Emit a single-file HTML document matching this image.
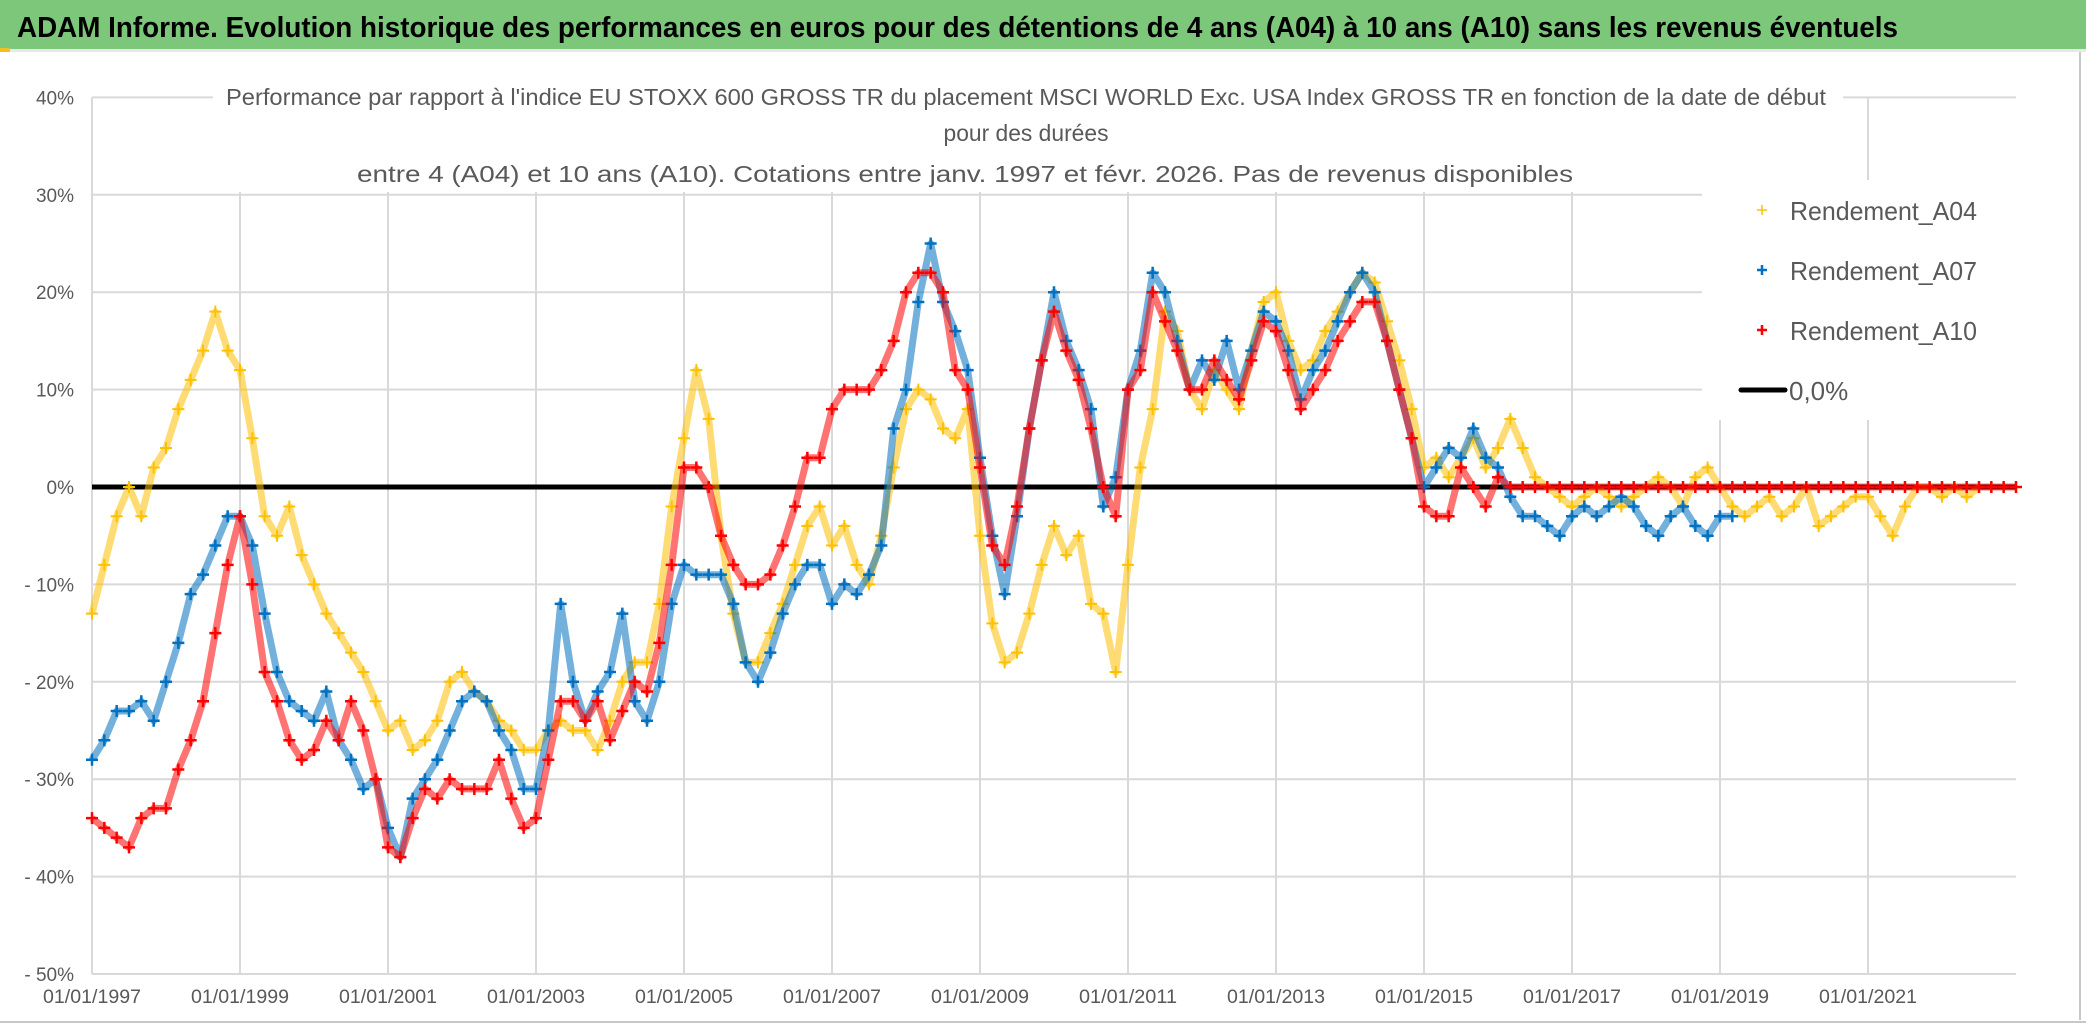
<!DOCTYPE html>
<html><head><meta charset="utf-8">
<style>
html,body{margin:0;padding:0;background:#fff;}
svg{display:block;font-family:"Liberation Sans",sans-serif;}
</style></head>
<body>
<svg id="chart" width="2086" height="1031" viewBox="0 0 2086 1031" xmlns="http://www.w3.org/2000/svg">
  <rect x="0" y="0" width="2086" height="1031" fill="#ffffff"/>
  <rect x="0" y="0" width="2086" height="49" fill="#7dc77b"/>
  <rect x="0" y="49" width="2086" height="3" fill="#e8e8e8"/>
  <rect x="0" y="48" width="10" height="4" fill="#f0c020"/>
  <text x="17" y="37" font-size="29" font-weight="bold" fill="#000" textLength="1881" lengthAdjust="spacingAndGlyphs">ADAM Informe. Evolution historique des performances en euros pour des détentions de 4 ans (A04) à 10 ans (A10) sans les revenus éventuels</text>
  <line x1="2080" y1="52" x2="2080" y2="1020" stroke="#c8c8c8" stroke-width="2"/>
  <line x1="0" y1="1022" x2="2086" y2="1022" stroke="#c8c8c8" stroke-width="2"/>
  <g id="grid"></g>
  <g id="axes"></g>
  <rect x="213" y="60" width="1630" height="132" fill="#fff"/>
  <text x="1026" y="105" text-anchor="middle" font-size="23" fill="#595959" textLength="1600" lengthAdjust="spacingAndGlyphs">Performance par rapport à l'indice EU STOXX 600 GROSS TR  du placement MSCI WORLD Exc. USA Index GROSS TR en fonction de la date de début</text>
  <text x="1026" y="141" text-anchor="middle" font-size="23" fill="#595959" textLength="165" lengthAdjust="spacingAndGlyphs">pour des durées</text>
  <text x="965" y="182" text-anchor="middle" font-size="23" fill="#595959" textLength="1216" lengthAdjust="spacingAndGlyphs">entre 4 (A04) et 10 ans (A10). Cotations entre janv. 1997 et févr. 2026. Pas de revenus disponibles</text>
  <rect x="1702" y="180" width="330" height="240" fill="#fff"/>
  <g id="plot"></g>
  <g>
    <g>
      <path d="M1757 210h10M1762 205v10" stroke="#ffc000" stroke-width="1.5"/>
      <text x="1790" y="220" font-size="26" fill="#595959" textLength="187" lengthAdjust="spacingAndGlyphs">Rendement_A04</text>
    </g>
    <g>
      <path d="M1757 270h10M1762 265v10" stroke="#0070c0" stroke-width="2.5"/>
      <text x="1790" y="280" font-size="26" fill="#595959" textLength="187" lengthAdjust="spacingAndGlyphs">Rendement_A07</text>
    </g>
    <g>
      <path d="M1757 330h10M1762 325v10" stroke="#ff0000" stroke-width="2.5"/>
      <text x="1790" y="340" font-size="26" fill="#595959" textLength="187" lengthAdjust="spacingAndGlyphs">Rendement_A10</text>
    </g>
    <g>
      <line x1="1741" y1="390" x2="1785" y2="390" stroke="#000" stroke-width="5" stroke-linecap="round"/>
      <text x="1789" y="400" font-size="26" fill="#595959">0,0%</text>
    </g>
  </g>
</svg>
<script>
const yTicks = [40, 30, 20, 10, 0, -10, -20, -30, -40, -50];
const yTickLabels = ["40%", "30%", "20%", "10%", "0%", "- 10%", "- 20%", "- 30%", "- 40%", "- 50%"];
const xTickYears = [1997, 1999, 2001, 2003, 2005, 2007, 2009, 2011, 2013, 2015, 2017, 2019, 2021];
const xTickLabels = ["01/01/1997","01/01/1999","01/01/2001","01/01/2003","01/01/2005","01/01/2007","01/01/2009","01/01/2011","01/01/2013","01/01/2015","01/01/2017","01/01/2019","01/01/2021"];
const seriesStart = 1997;
const pointsPerYear = 6;
const rendementA04 = [
 -13,-8,-3,0,-3,2, 4,8,11,14,18,14, 12,5,-3,-5,-2,-7,
 -10,-13,-15,-17,-19,-22, -25,-24,-27,-26,-24,-20, -19,-21,-22,-24,-25,-27,
 -27,-25,-24,-25,-25,-27, -24,-20,-18,-18,-12,-2, 5,12,7,-5,-13,-18,
 -18,-15,-12,-8,-4,-2, -6,-4,-8,-10,-5,2, 8,10,9,6,5,8,
 -5,-14,-18,-17,-13,-8, -4,-7,-5,-12,-13,-19, -8,2,8,18,16,10,
 8,12,10,8,14,19, 20,15,12,13,16,18, 20,22,21,17,13,8,
 2,3,1,3,5,2, 4,7,4,1,0,-1, -2,-1,0,-1,-2,-1,
 0,1,0,-2,1,2, 0,-2,-3,-2,-1,-3, -2,0,-4,-3,-2,-1,
 -1,-3,-5,-2,0,0, -1,0,-1,0
];
const rendementA07 = [
 -28,-26,-23,-23,-22,-24, -20,-16,-11,-9,-6,-3, -3,-6,-13,-19,-22,-23,
 -24,-21,-26,-28,-31,-30, -35,-38,-32,-30,-28,-25, -22,-21,-22,-25,-27,-31,
 -31,-25,-12,-20,-24,-21, -19,-13,-22,-24,-20,-12, -8,-9,-9,-9,-12,-18,
 -20,-17,-13,-10,-8,-8, -12,-10,-11,-9,-6,6, 10,19,25,19,16,12,
 3,-5,-11,-3,6,13, 20,15,12,8,-2,1, 10,14,22,20,15,10,
 13,11,15,10,14,18, 17,14,9,12,14,17, 20,22,20,15,10,5,
 0,2,4,3,6,3, 2,-1,-3,-3,-4,-5, -3,-2,-3,-2,-1,-2,
 -4,-5,-3,-2,-4,-5, -3,-3
];
const rendementA10 = [
 -34,-35,-36,-37,-34,-33, -33,-29,-26,-22,-15,-8, -3,-10,-19,-22,-26,-28,
 -27,-24,-26,-22,-25,-30, -37,-38,-34,-31,-32,-30, -31,-31,-31,-28,-32,-35,
 -34,-28,-22,-22,-24,-22, -26,-23,-20,-21,-16,-8, 2,2,0,-5,-8,-10,
 -10,-9,-6,-2,3,3, 8,10,10,10,12,15, 20,22,22,20,12,10,
 2,-6,-8,-2,6,13, 18,14,11,6,0,-3, 10,12,20,17,14,10,
 10,13,11,9,13,17, 16,12,8,10,12,15, 17,19,19,15,10,5,
 -2,-3,-3,2,0,-2, 1,0,0,0,0,0, 0,0,0,0,0,0,
 0,0,0,0,0,0, 0,0,0,0,0,0, 0,0,0,0,0,0,
 0,0,0,0,0,0, 0,0,0,0,0,0, 0
];
const zeroLineValue = 0;

const NS = "http://www.w3.org/2000/svg";
const X0 = 92, PX_PER_YEAR = 74.0, Y0 = 487, PX_PER_PCT = 9.74;
const xScale = yr => X0 + (yr - 1997) * PX_PER_YEAR;
const yScale = v => Y0 - v * PX_PER_PCT;
const grid = document.getElementById('grid');
const axes = document.getElementById('axes');
const plot = document.getElementById('plot');
function mk(tag, attrs, parent) {
  const e = document.createElementNS(NS, tag);
  for (const k in attrs) e.setAttribute(k, attrs[k]);
  parent.appendChild(e);
  return e;
}
const xRight = 2016;
yTicks.forEach((t, i) => {
  const gl = mk('line', {x1: X0, x2: xRight, y1: yScale(t), y2: yScale(t), stroke: '#d9d9d9', 'stroke-width': 2}, grid);
  
  
  const lb = mk('text', {x: 74, y: yScale(t) + 7, 'text-anchor': 'end', 'font-size': 19, fill: '#595959'}, axes);
  lb.textContent = yTickLabels[i];
  
  
});
xTickYears.forEach((yr, i) => {
  const gl = mk('line', {x1: xScale(yr), x2: xScale(yr), y1: yScale(40), y2: yScale(-50), stroke: '#d9d9d9', 'stroke-width': 2}, grid);
  
  
  const lb = mk('text', {x: xScale(yr), y: 1003, 'text-anchor': 'middle', 'font-size': 19, fill: '#595959', textLength: 98, lengthAdjust: 'spacingAndGlyphs'}, axes);
  lb.textContent = xTickLabels[i];
  
  
});

const zl = mk('line', {x1: X0, x2: xRight, y1: yScale(zeroLineValue), y2: yScale(zeroLineValue), stroke: '#000', 'stroke-width': 5}, plot);



function drawSeries(values, color, name, sw) {
  const g = mk('g', {}, plot);
  
  
  let pts = values.map((v, i) => xScale(seriesStart + i / pointsPerYear).toFixed(1) + ',' + yScale(v).toFixed(1)).join(' ');
  mk('polyline', {points: pts, fill: 'none', stroke: color, 'stroke-width': 7, 'stroke-opacity': 0.55, 'stroke-linejoin': 'round'}, g);
  values.forEach((v, i) => {
    const x = xScale(seriesStart + i / pointsPerYear), y = yScale(v);
    const m = mk('path', {d: `M${x-6} ${y}h12M${x} ${y-6}v12`, stroke: color, 'stroke-width': sw}, g);
    
    
  });
}
drawSeries(rendementA04, '#ffc000', 'series-a04', 2);
drawSeries(rendementA07, '#0070c0', 'series-a07', 2.5);
drawSeries(rendementA10, '#ff0000', 'series-a10', 2.5);
</script>
</body></html>
